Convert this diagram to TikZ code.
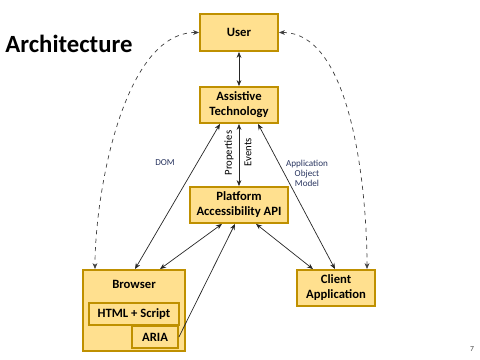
\documentclass[tikz,border=0pt]{standalone}
\usepackage{fontspec}
\setmainfont{Carlito}
\usepackage{tikz}
\usetikzlibrary{arrows.meta}
\definecolor{boxfill}{RGB}{255,224,143}
\definecolor{boxline}{RGB}{191,144,0}
\definecolor{notetext}{RGB}{40,52,95}

\begin{document}
\begin{tikzpicture}[
x=0.025cm, y=-0.025cm,
font=\fontsize{9}{10.6}\selectfont\bfseries,
block/.style={draw=boxline, line width=1.3pt, fill=boxfill, align=center,
  inner sep=1pt},
link/.style={{Stealth[length=1.5mm,width=1.2mm]}-{Stealth[length=1.5mm,width=1.2mm]}, line width=0.5pt, black!85},
onelink/.style={-{Stealth[length=1.5mm,width=1.2mm]}, line width=0.5pt, black!85},
domlink/.style={{Stealth[length=1.5mm,width=1.2mm]}-{Stealth[length=1.5mm,width=1.2mm]}, line width=0.5pt, dashed, black!75},
note/.style={font=\fontsize{6.5}{7.2}\selectfont, text=notetext, align=center},
flowlabel/.style={font=\fontsize{7.6}{8.5}\selectfont, rotate=90}
]
\useasboundingbox (0,0) rectangle (480,360);

\node[font=\fontsize{17.6}{20}\selectfont\bfseries] (title) at (69,44) {Architecture};

\node[block, minimum width=1.95cm, minimum height=0.925cm] (user) at (239,32.5) {User};
\node[block, minimum width=1.95cm, minimum height=0.9cm] (assist) at (239,105) {Assistive\\Technology};
\node[block, minimum width=2.45cm, minimum height=0.9cm] (api) at (239,205) {Platform\\Accessibility API};
\node[block, minimum width=2.55cm, minimum height=2.025cm,
  label={[anchor=north, yshift=-0.16cm]north:Browser}] (browser) at (134,310.5) {};
\node[block, minimum width=2.25cm, minimum height=0.55cm] (html) at (134,314) {HTML + Script};
\node[block, minimum width=1.15cm, minimum height=0.55cm] (aria) at (155,337) {ARIA};
\node[block, minimum width=1.95cm, minimum height=0.9cm] (client) at (336,288) {Client\\Application};

\draw[link] (user.south) -- (assist.north);
\draw[link] (assist.south) -- (api.north);
\node[flowlabel] (props) at (229,153) {Properties};
\node[flowlabel] (events) at (248,152) {Events};

\draw[link] ([xshift=-0.475cm]assist.south) -- ([xshift=0.025cm]browser.north);
\draw[link] ([xshift=0.475cm]assist.south) -- ([xshift=-0.025cm]client.north);
\node[note] (dom) at (165,163) {DOM};
\node[note] (aom) at (307,173) {Application\\Object\\Model};

\draw[link] ([xshift=-0.425cm]api.south) -- ([xshift=0.65cm]browser.north);
\draw[onelink] (aria.east) -- ([xshift=-0.1cm]api.south);
\draw[link] ([xshift=0.425cm]api.south) -- ([xshift=-0.575cm]client.north);

% direct use of the page by the user
\draw[domlink] (user.west) to[out=180, in=90, looseness=0.75] ([xshift=-0.975cm]browser.north);
\draw[domlink] (user.east) to[out=0, in=90, looseness=0.75] ([xshift=0.775cm]client.north);

\node[font=\fontsize{5.5}{6}\selectfont, text=black!70] (page) at (472,349) {7};
\end{tikzpicture}
\end{document}
